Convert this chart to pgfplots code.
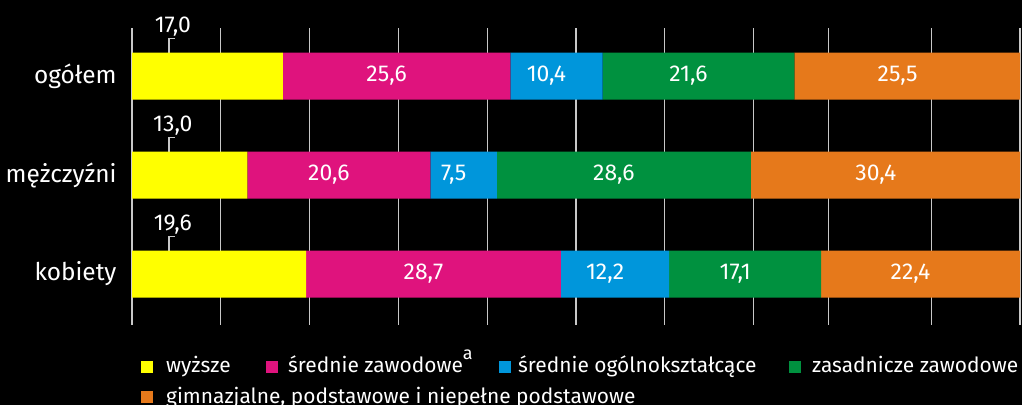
\documentclass[border=0pt]{standalone}
\usepackage{pgfplots}
\pgfplotsset{compat=1.18}
\usepackage{pgfplotstable}
\usepackage{fontspec}
\setmainfont{Fira Sans}
\definecolor{cyel}{RGB}{255,255,0}
\definecolor{cpink}{RGB}{223,19,125}
\definecolor{cblue}{RGB}{0,150,219}
\definecolor{cgreen}{RGB}{0,145,63}
\definecolor{corange}{RGB}{230,121,27}
\definecolor{cgrid}{RGB}{200,200,200}
\pgfplotstableread{
y wy sz so zz gp
0 17.0 25.6 10.4 21.6 25.5
1 13.0 20.6 7.5 28.6 30.4
2 19.6 28.7 12.2 17.1 22.4
}\data
\pgfplotstablecreatecol[create col/expr={0.5*\thisrow{sz}+\thisrow{wy}}]{msz}{\data}
\pgfplotstablecreatecol[create col/expr={0.5*\thisrow{so}+\thisrow{sz}+\thisrow{wy}}]{mso}{\data}
\pgfplotstablecreatecol[create col/expr={0.5*\thisrow{zz}+\thisrow{so}+\thisrow{sz}+\thisrow{wy}}]{mzz}{\data}
\pgfplotstablecreatecol[create col/expr={0.5*\thisrow{gp}+\thisrow{zz}+\thisrow{so}+\thisrow{sz}+\thisrow{wy}}]{mgp}{\data}
\pgfplotsset{base/.style={
  at={(132bp,80bp)}, anchor=south west,
  scale only axis, width=888bp, height=297bp,
  xmin=0, xmax=100, ymin=-0.485, ymax=2.515, y dir=reverse}}
\begin{document}
\begin{tikzpicture}
\fill[black] (0,0) rectangle (1022bp,405bp);
\useasboundingbox (0,0) rectangle (1022bp,405bp);
\begin{axis}[base,
  xbar stacked, bar width=0.475,
  xtick={0,10,20,30,40,50,60,70,78.4,90,100}, xticklabels={},
  xmajorgrids, major grid style={cgrid, line width=1.3bp},
  ytick={0,1,2}, yticklabels={ogółem, mężczyźni, kobiety},
  yticklabel style={text=white, font=\fontsize{24.5}{28}\selectfont, xshift=-12bp},
  axis line style={draw=none}, tick style={draw=none},
]
\addplot[fill=cyel, draw=none] table[x=wy, y=y] {\data};
\addplot[fill=cpink, draw=none] table[x=sz, y=y] {\data};
\addplot[fill=cblue, draw=none] table[x=so, y=y] {\data};
\addplot[fill=cgreen, draw=none] table[x=zz, y=y] {\data};
\addplot[fill=corange, draw=none] table[x=gp, y=y] {\data};
\draw[cgrid, line width=1.2bp] (axis cs:4.17,-0.2375) -- (axis cs:4.17,-0.38) -- (axis cs:4.85,-0.38);
\draw[cgrid, line width=1.2bp] (axis cs:4.17,0.7625) -- (axis cs:4.17,0.62) -- (axis cs:4.85,0.62);
\draw[cgrid, line width=1.2bp] (axis cs:4.17,1.7625) -- (axis cs:4.17,1.62) -- (axis cs:4.85,1.62);
\end{axis}
\begin{axis}[base, hide axis,
  /pgf/number format/.cd, fixed, fixed zerofill, precision=1, use comma, assume math mode=true,
  /pgfplots/.cd,
  every node near coord/.append style={text=white, font=\fontsize{23}{27}\selectfont, anchor=center, xshift=-10bp},
  lab/.style={draw=none, mark=none, nodes near coords, point meta=explicit},
]
\addplot[lab, every node near coord/.append style={anchor=base, xshift=10bp, yshift=44bp}]
  table[x expr=4.6, y=y, meta=wy] {\data};
\addplot[lab] table[x=msz, y=y, meta=sz] {\data};
\addplot[lab] table[x=mso, y=y, meta=so] {\data};
\addplot[lab] table[x=mzz, y=y, meta=zz] {\data};
\addplot[lab] table[x=mgp, y=y, meta=gp] {\data};
\end{axis}
\begin{scope}[every node/.style={text=white, font=\fontsize{21}{25}\selectfont, anchor=base west, inner sep=0pt}]
\fill[cyel] (141bp,32bp) rectangle (153bp,44bp);
\node at (166bp,33bp) {wyższe};
\fill[cpink] (266bp,32bp) rectangle (278bp,44bp);
\node at (288bp,33bp) {średnie zawodowe\raisebox{13bp}{\fontsize{18}{20}\selectfont a}};
\fill[cblue] (499bp,32bp) rectangle (511bp,44bp);
\node at (518bp,33bp) {średnie ogólnokształcące};
\fill[cgreen] (789bp,32bp) rectangle (801bp,44bp);
\node at (812bp,33bp) {zasadnicze zawodowe};
\fill[corange] (141bp,2bp) rectangle (153bp,14bp);
\node at (166bp,2bp) {gimnazjalne, podstawowe i niepełne podstawowe};
\end{scope}
\end{tikzpicture}
\end{document}
